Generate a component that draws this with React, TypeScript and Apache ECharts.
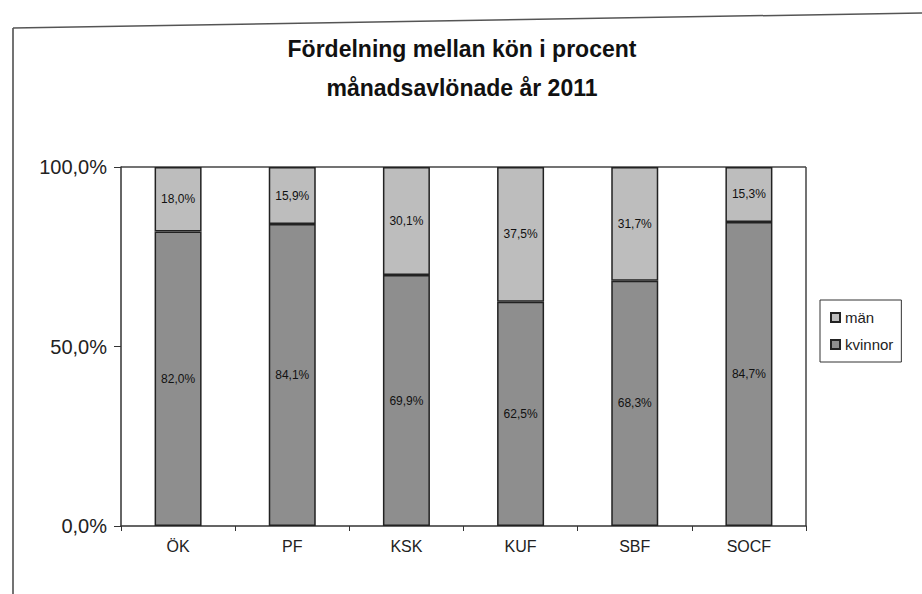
import React, { useEffect, useRef } from "react";
import * as echarts from "echarts";

const categories = ["ÖK", "PF", "KSK", "KUF", "SBF", "SOCF"];
const kvinnor = [82.0, 84.1, 69.9, 62.5, 68.3, 84.7];
const man = [18.0, 15.9, 30.1, 37.5, 31.7, 15.3];
const yTicks = ["0,0%", "50,0%", "100,0%"];

const fmt = (v: number) => v.toFixed(1).replace(".", ",") + "%";

export default function App() {
  const ref = useRef<HTMLDivElement>(null);
  useEffect(() => {
    if (!ref.current) return;
    const chart = echarts.init(ref.current, null, { renderer: "svg" });
    const font = "'Liberation Sans', Arial, sans-serif";
    const gl = 121, gt = 167, gw = 685, gh = 359;
    chart.setOption({
      animation: false,
      backgroundColor: "#ffffff",
      textStyle: { fontFamily: font },
      title: {
        text: "Fördelning mellan kön i procent\nmånadsavlönade år 2011",
        left: 457,
        textAlign: "center",
        top: 24,
        textStyle: { fontSize: 23, fontWeight: "bold", color: "#111", lineHeight: 39, fontFamily: font },
      },
      graphic: [
        { type: "line", shape: { x1: 13, y1: 28, x2: 13, y2: 594 }, style: { stroke: "#444", lineWidth: 1.5 } },
        { type: "line", shape: { x1: 13, y1: 28, x2: 922, y2: 13 }, style: { stroke: "#555", lineWidth: 1.5 } },
        { type: "line", shape: { x1: gl, y1: gt, x2: gl + gw, y2: gt }, style: { stroke: "#444", lineWidth: 1.5 } },
        { type: "line", shape: { x1: gl + gw, y1: gt, x2: gl + gw, y2: gt + gh }, style: { stroke: "#444", lineWidth: 1.5 } },
      ],
      legend: {
        orient: "vertical",
        left: 820,
        top: 300,
        icon: "rect",
        itemWidth: 9,
        itemHeight: 9,
        itemGap: 12,
        padding: [10, 8, 10, 10],
        borderColor: "#333",
        borderWidth: 1,
        data: ["män", "kvinnor"],
        textStyle: { fontSize: 15, color: "#222", fontFamily: font },
      },
      grid: { left: gl, top: gt, width: gw, height: gh, containLabel: false },
      xAxis: {
        type: "category",
        data: categories,
        axisLine: { lineStyle: { color: "#333", width: 1.5 } },
        axisTick: { show: true, length: 5, lineStyle: { color: "#333" } },
        axisLabel: { fontSize: 16, color: "#222", margin: 12, fontFamily: font },
      },
      yAxis: {
        type: "value",
        min: 0,
        max: 100,
        interval: 50,
        axisLine: { show: true, lineStyle: { color: "#333", width: 1.5 } },
        axisTick: { show: true, length: 7, lineStyle: { color: "#333" } },
        splitLine: { show: false },
        axisLabel: {
          fontSize: 20,
          color: "#222",
          margin: 14,
          fontFamily: font,
          formatter: (v: number) => yTicks[Math.round(v / 50)] ?? "",
        },
      },
      series: [
        {
          name: "kvinnor",
          type: "bar",
          stack: "a",
          barWidth: 47,
          data: kvinnor,
          itemStyle: { color: "#8e8e8e", borderColor: "#222", borderWidth: 1.5 },
          label: { show: true, position: "inside", formatter: (p: any) => fmt(p.value), fontSize: 12, color: "#111" },
        },
        {
          name: "män",
          type: "bar",
          stack: "a",
          barWidth: 47,
          data: man,
          itemStyle: { color: "#bdbdbd", borderColor: "#222", borderWidth: 1.5 },
          label: { show: true, position: "inside", formatter: (p: any) => fmt(p.value), fontSize: 12, color: "#111" },
        },
      ],
    });
    return () => chart.dispose();
  }, []);
  return <div ref={ref} style={{ width: 922, height: 594, position: "absolute", left: 0, top: 0 }} />;
}
